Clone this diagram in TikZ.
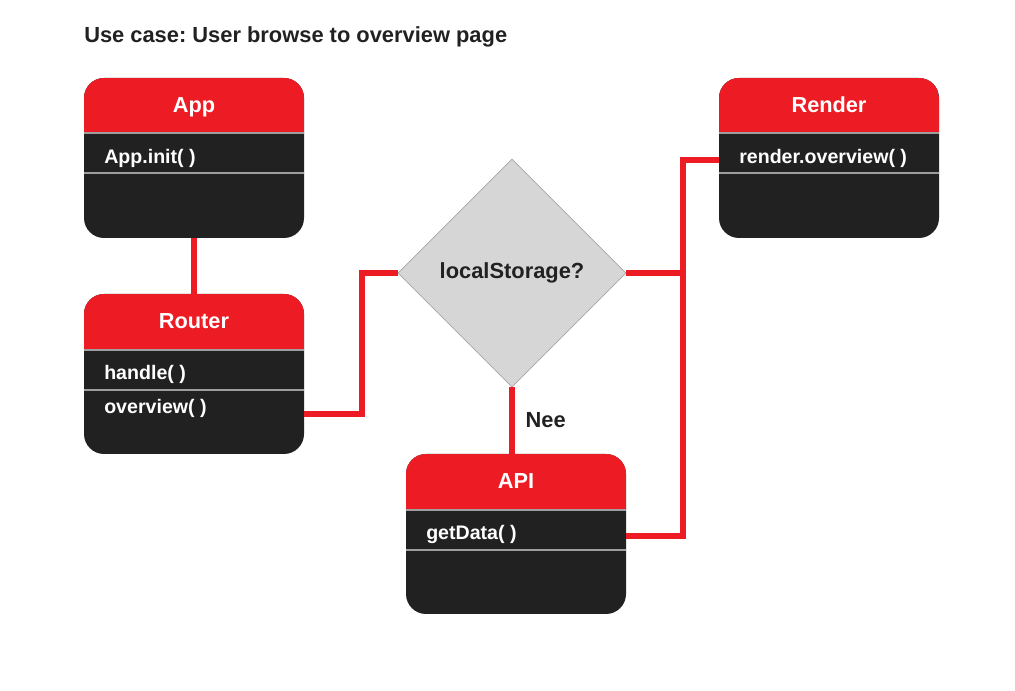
\documentclass[tikz,border=0pt]{standalone}
\usepackage{fontspec}
\setmainfont{Liberation Sans}
\usepackage{tikz}
\usetikzlibrary{shapes.geometric}
\usetikzlibrary{positioning}
\frenchspacing

\definecolor{ured}{HTML}{ED1C24}
\definecolor{udark}{HTML}{212121}
\definecolor{usep}{HTML}{9E9E9E}
\definecolor{ugrey}{HTML}{D6D6D6}
\definecolor{uline}{HTML}{A6A6A6}

\tikzset{
  classbox/.style={fill=udark,rounded corners=15pt,minimum width=165pt,minimum height=120pt,inner sep=0pt,
    path picture={\fill[ured,sharp corners] (path picture bounding box.north west) rectangle ([yshift=-41.25pt]path picture bounding box.north east);}},
  classname/.style={text=white,font=\bfseries\fontsize{16.3}{18}\selectfont,inner sep=0pt,anchor=base},
  method/.style={text=white,font=\bfseries\fontsize{14.7}{17}\selectfont,inner sep=0pt,anchor=base west},
  sepline/.style={draw=usep,line width=1.5pt},
  link/.style={draw=ured,line width=4.5pt},
  decision/.style={diamond,aspect=1,fill=ugrey,draw=uline,line width=0.6pt,minimum width=171pt,minimum height=171pt,
    inner sep=0pt,text=udark,font=\bfseries\fontsize{16.4}{18}\selectfont}
}

\begin{document}
\begin{tikzpicture}[x=0.75pt,y=-0.75pt]
  \useasboundingbox (0,0) rectangle (1015,691);

  \node[anchor=base west,inner sep=0pt,text=udark,font=\bfseries\fontsize{16.4}{18}\selectfont] (usecase) at (84,43) {Use case: User browse to overview page};

  % classes
  \node[classbox] (app) at (194,158) {};
  \node[classname] (appname) at (194,113) {App};
  \draw[sepline] (84,133) -- (304,133);
  \node[method] (appinit) at (104,164) {App.init( )};
  \draw[sepline] (84,173) -- (304,173);

  \node[classbox] (render) at (829,158) {};
  \node[classname] (rendername) at (829,113) {Render};
  \draw[sepline] (719,133) -- (939,133);
  \node[method] (renderrow) at (739,164) {render.overview( )};
  \draw[sepline] (719,173) -- (939,173);

  \node[classbox] (router) at (194,374) {};
  \node[classname] (routername) at (194,329) {Router};
  \draw[sepline] (84,350) -- (304,350);
  \node[method] (handle) at (104,380) {handle( )};
  \draw[sepline] (84,390) -- (304,390);
  \node[method] (overview) at (104,414) {overview( )};

  \node[classbox] (api) at (516,534) {};
  \node[classname] (apiname) at (516,489) {API};
  \draw[sepline] (406,510) -- (626,510);
  \node[method] (getdata) at (426,540) {getData( )};
  \draw[sepline] (406,550) -- (626,550);

  % decision
  \node[decision] (ls) at (512,273) {localStorage?};

  \coordinate (bendL) at (362,273);
  \coordinate (bendR) at (683,273);

  \draw[link] (app.south) -- (router.north);
  \draw[link] (router.east |- overview.base) -| (bendL) -- (ls.west);
  \draw[link] (ls.south) -- (api.north -| ls.south) node[pos=0.5,right=8pt,inner sep=0pt,text=udark,font=\bfseries\fontsize{16.4}{18}\selectfont] (nee) {Nee};
  \draw[link] (ls.east) -- (bendR) |- (render.west |- renderrow.mid);
  \draw[link] (api.east |- getdata.mid) -| (bendR);
\end{tikzpicture}
\end{document}
